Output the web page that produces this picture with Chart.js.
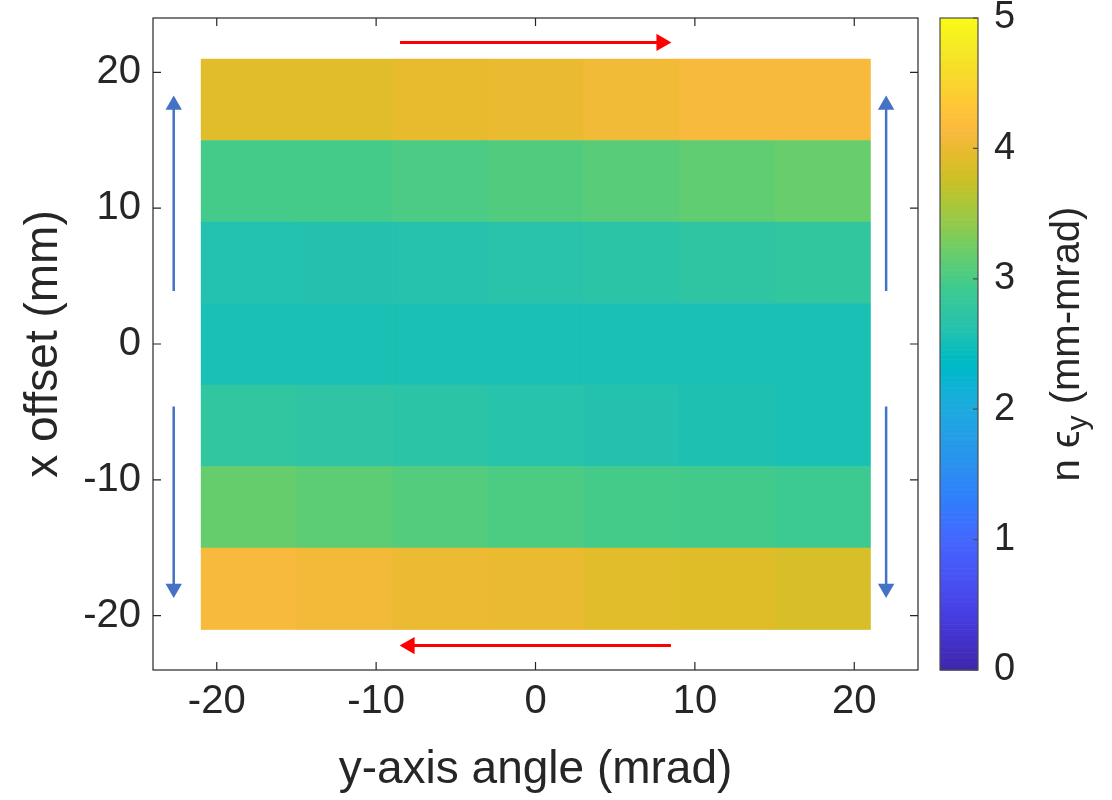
<!DOCTYPE html>
<html lang="en">

<head>
    <meta charset="UTF-8">
    <title>Emittance map</title>
    <script src="https://cdn.jsdelivr.net/npm/chart.js"></script>
    <style>
        html, body { margin: 0; padding: 0; background: #fff; }
        .chart-container { position: relative; width: 1112px; height: 800px; }
    </style>
</head>

<body>
    <div class="chart-container">
        <canvas id="grafico-emitancia"></canvas>
    </div>

<script>
    // centros das celulas (mrad no eixo x, mm no eixo y)
    const xCenters = [-18, -12, -6, 0, 6, 12, 18];
    const yCenters = [18, 12, 6, 0, -6, -12, -18];
    const cellSize = 6;

    // n eps_y (mm-mrad), uma linha por yCenter, de cima para baixo
    const rowP18 = [3.93, 3.93, 3.98, 4.00, 4.06, 4.13, 4.13];
    const rowP12 = [2.98, 2.98, 3.02, 3.06, 3.10, 3.15, 3.20];
    const rowP6 = [2.61, 2.62, 2.64, 2.67, 2.70, 2.74, 2.78];
    const row0 = [2.56, 2.56, 2.56, 2.55, 2.55, 2.56, 2.56];
    const rowM6 = [2.77, 2.73, 2.70, 2.66, 2.62, 2.58, 2.56];
    const rowM12 = [3.19, 3.13, 3.07, 3.03, 2.98, 2.96, 2.92];
    const rowM18 = [4.13, 4.08, 4.02, 4.00, 3.93, 3.90, 3.86];
    const emittance = [rowP18, rowP12, rowP6, row0, rowM6, rowM12, rowM18];

    const xTicks = [-20, -10, 0, 10, 20];
    const yTicks = [-20, -10, 0, 10, 20];
    const cbTicks = [0, 1, 2, 3, 4, 5];
    const cbMin = 0, cbMax = 5;

    // setas (direcao da varredura)
    const arrowTopX = [-8.5, 7.9], arrowTopY = [22.2, 22.2];
    const arrowBottomX = [8.5, -7.9], arrowBottomY = [-22.2, -22.2];
    const arrowSideX = [-22.7, 22.0];
    const arrowUpY = [3.9, 17.6];
    const arrowDownY = [-4.6, -18.0];

    const parula = [
        [0.2422, 0.1504, 0.6603], [0.2504, 0.1650, 0.7076], [0.2578, 0.1818, 0.7511], [0.2647, 0.1978, 0.7952],
        [0.2706, 0.2147, 0.8364], [0.2751, 0.2342, 0.8710], [0.2783, 0.2559, 0.8991], [0.2803, 0.2782, 0.9221],
        [0.2813, 0.3006, 0.9414], [0.2810, 0.3228, 0.9579], [0.2795, 0.3447, 0.9717], [0.2760, 0.3667, 0.9829],
        [0.2699, 0.3892, 0.9906], [0.2602, 0.4123, 0.9952], [0.2440, 0.4358, 0.9988], [0.2206, 0.4603, 0.9973],
        [0.1963, 0.4847, 0.9892], [0.1834, 0.5074, 0.9798], [0.1786, 0.5289, 0.9682], [0.1764, 0.5499, 0.9520],
        [0.1687, 0.5703, 0.9359], [0.1540, 0.5902, 0.9218], [0.1460, 0.6091, 0.9079], [0.1380, 0.6276, 0.8973],
        [0.1248, 0.6459, 0.8883], [0.1113, 0.6635, 0.8763], [0.0952, 0.6798, 0.8598], [0.0689, 0.6948, 0.8394],
        [0.0297, 0.7082, 0.8163], [0.0036, 0.7203, 0.7917], [0.0067, 0.7312, 0.7660], [0.0433, 0.7411, 0.7394],
        [0.0964, 0.7500, 0.7120], [0.1408, 0.7584, 0.6842], [0.1717, 0.7670, 0.6554], [0.1938, 0.7758, 0.6251],
        [0.2161, 0.7843, 0.5923], [0.2470, 0.7918, 0.5567], [0.2906, 0.7973, 0.5188], [0.3406, 0.8008, 0.4789],
        [0.3909, 0.8029, 0.4354], [0.4456, 0.8024, 0.3909], [0.5044, 0.7993, 0.3480], [0.5616, 0.7942, 0.3045],
        [0.6174, 0.7876, 0.2612], [0.6720, 0.7793, 0.2227], [0.7242, 0.7698, 0.1910], [0.7738, 0.7598, 0.1646],
        [0.8203, 0.7498, 0.1535], [0.8634, 0.7406, 0.1596], [0.9035, 0.7330, 0.1774], [0.9393, 0.7288, 0.2100],
        [0.9728, 0.7298, 0.2394], [0.9956, 0.7434, 0.2371], [0.9970, 0.7659, 0.2199], [0.9952, 0.7893, 0.2028],
        [0.9892, 0.8136, 0.1885], [0.9786, 0.8386, 0.1766], [0.9676, 0.8639, 0.1643], [0.9610, 0.8890, 0.1537],
        [0.9597, 0.9135, 0.1423], [0.9628, 0.9373, 0.1265], [0.9691, 0.9606, 0.1064], [0.9769, 0.9839, 0.0805]
    ];

    function parulaColor(v) {
        const t = Math.min(Math.max((v - cbMin) / (cbMax - cbMin), 0), 1) * (parula.length - 1);
        const i = Math.floor(t);
        const f = t - i;
        const a = parula[i];
        const b = parula[Math.min(i + 1, parula.length - 1)];
        const c = a.map((ai, k) => Math.round((ai + (b[k] - ai) * f) * 255));
        return 'rgb(' + c[0] + ', ' + c[1] + ', ' + c[2] + ')';
    }

    const FONT = "'Liberation Sans', Arial, Helvetica, sans-serif";
    const INK = '#262626';

    function arrowData(xs, ys) {
        return xs.map((x, i) => ({ x: x, y: ys[i] }));
    }

    function arrowDataset(points, color, width, head, rotation) {
        return {
            data: points,
            showLine: true,
            borderColor: color,
            borderWidth: width,
            pointStyle: 'triangle',
            pointRadius: [0, head],
            pointRotation: [0, rotation],
            pointBackgroundColor: color,
            pointBorderWidth: 0,
            pointHoverRadius: [0, head]
        };
    }

    // celulas do mapa
    const heatmapPlugin = {
        id: 'heatmap',
        beforeDatasetsDraw(chart) {
            const { ctx, scales: { x, y } } = chart;
            ctx.save();
            yCenters.forEach((yc, r) => {
                xCenters.forEach((xc, c) => {
                    const x0 = x.getPixelForValue(xc - cellSize / 2);
                    const x1 = x.getPixelForValue(xc + cellSize / 2);
                    const y0 = y.getPixelForValue(yc + cellSize / 2);
                    const y1 = y.getPixelForValue(yc - cellSize / 2);
                    ctx.fillStyle = parulaColor(emittance[r][c]);
                    ctx.fillRect(x0, y0, x1 - x0 + 0.6, y1 - y0 + 0.6);
                });
            });
            ctx.restore();
        }
    };

    // caixa dos eixos, ticks para dentro e barra de cores
    const boxPlugin = {
        id: 'box',
        afterDraw(chart) {
            const { ctx, chartArea: a, scales: { x, y, cb } } = chart;
            const tl = 8;
            ctx.save();
            ctx.strokeStyle = INK;
            ctx.lineWidth = 1.2;
            ctx.strokeRect(a.left, a.top, a.right - a.left, a.bottom - a.top);
            ctx.beginPath();
            xTicks.forEach(v => {
                const px = x.getPixelForValue(v);
                ctx.moveTo(px, a.bottom); ctx.lineTo(px, a.bottom - tl);
                ctx.moveTo(px, a.top); ctx.lineTo(px, a.top + tl);
            });
            yTicks.forEach(v => {
                const py = y.getPixelForValue(v);
                ctx.moveTo(a.left, py); ctx.lineTo(a.left + tl, py);
                ctx.moveTo(a.right, py); ctx.lineTo(a.right - tl, py);
            });
            ctx.stroke();

            // barra de cores
            const cbLeft = a.right + 22;
            const cbWidth = 38;
            const steps = 256;
            for (let i = 0; i < steps; i++) {
                const v0 = cbMin + (cbMax - cbMin) * i / steps;
                const v1 = cbMin + (cbMax - cbMin) * (i + 1) / steps;
                const p0 = cb.getPixelForValue(v0);
                const p1 = cb.getPixelForValue(v1);
                ctx.fillStyle = parulaColor((v0 + v1) / 2);
                ctx.fillRect(cbLeft, p1, cbWidth, p0 - p1 + 0.6);
            }
            const cbTop = cb.getPixelForValue(cbMax);
            const cbBottom = cb.getPixelForValue(cbMin);
            ctx.strokeStyle = '#4d4d4d';
            ctx.lineWidth = 1.2;
            ctx.strokeRect(cbLeft, cbTop, cbWidth, cbBottom - cbTop);
            ctx.beginPath();
            cbTicks.forEach(v => {
                const py = cb.getPixelForValue(v);
                ctx.moveTo(cbLeft + cbWidth, py); ctx.lineTo(cbLeft + cbWidth - 5, py);
            });
            ctx.stroke();

            // titulo da barra: n eps_y (mm-mrad)
            const size = 40;
            const parts = [
                { t: 'n ', f: size + 'px ' + FONT, dy: 0 },
                { t: '\u03F5', f: size + 'px ' + FONT, dy: 0 },
                { t: 'y', f: Math.round(size * 0.75) + 'px ' + FONT, dy: size * 0.28 },
                { t: ' (mm-mrad)', f: size + 'px ' + FONT, dy: 0 }
            ];
            let total = 0;
            parts.forEach(p => { ctx.font = p.f; p.w = ctx.measureText(p.t).width; total += p.w; });
            ctx.translate(a.right + 150, (cbTop + cbBottom) / 2);
            ctx.rotate(-Math.PI / 2);
            ctx.fillStyle = INK;
            ctx.textBaseline = 'middle';
            ctx.textAlign = 'left';
            let cx = -total / 2;
            parts.forEach(p => {
                ctx.font = p.f;
                ctx.fillText(p.t, cx, p.dy);
                cx += p.w;
            });
            ctx.restore();
        }
    };

    const tickFont = { family: FONT, size: 40 };
    const titleFont = { family: FONT, size: 46 };

    new Chart(document.getElementById('grafico-emitancia'), {
        type: 'scatter',
        data: {
            datasets: [
                arrowDataset(arrowData(arrowTopX, arrowTopY), '#ff0000', 3, 10, 90),
                arrowDataset(arrowData(arrowBottomX, arrowBottomY), '#ff0000', 3, 10, -90),
                arrowDataset(arrowData([arrowSideX[0], arrowSideX[0]], arrowUpY), '#4472c4', 2.5, 9.5, 0),
                arrowDataset(arrowData([arrowSideX[0], arrowSideX[0]], arrowDownY), '#4472c4', 2.5, 9.5, 180),
                arrowDataset(arrowData([arrowSideX[1], arrowSideX[1]], arrowUpY), '#4472c4', 2.5, 9.5, 0),
                arrowDataset(arrowData([arrowSideX[1], arrowSideX[1]], arrowDownY), '#4472c4', 2.5, 9.5, 180)
            ]
        },
        options: {
            responsive: true,
            maintainAspectRatio: false,
            animation: false,
            layout: { padding: { top: 18, left: 0, right: 0, bottom: 0 } },
            plugins: {
                legend: { display: false },
                tooltip: { enabled: false }
            },
            scales: {
                x: {
                    type: 'linear',
                    min: -24,
                    max: 24,
                    afterBuildTicks: s => { s.ticks = xTicks.map(v => ({ value: v })); },
                    afterFit: s => { s.height = 130; s.paddingLeft = 0; s.paddingRight = 0; },
                    grid: { display: false, drawTicks: false },
                    border: { display: false },
                    ticks: { color: INK, font: tickFont, padding: 8, maxRotation: 0 },
                    title: { display: true, text: 'y-axis angle (mrad)', color: INK, font: titleFont, padding: { top: 0, bottom: 2 } }
                },
                y: {
                    type: 'linear',
                    min: -24,
                    max: 24,
                    afterBuildTicks: s => { s.ticks = yTicks.map(v => ({ value: v })); },
                    afterFit: s => { s.width = 153; s.paddingTop = 0; s.paddingBottom = 0; },
                    grid: { display: false, drawTicks: false },
                    border: { display: false },
                    ticks: { color: INK, font: tickFont, padding: 12 },
                    title: { display: true, text: 'x offset (mm)', color: INK, font: titleFont, padding: { top: 17, bottom: 0 } }
                },
                cb: {
                    type: 'linear',
                    position: 'right',
                    min: cbMin,
                    max: cbMax,
                    afterBuildTicks: s => { s.ticks = cbTicks.map(v => ({ value: v })); },
                    afterFit: s => { s.width = 194; s.paddingTop = 0; s.paddingBottom = 0; },
                    grid: { display: false, drawTicks: false },
                    border: { display: false },
                    ticks: { color: INK, font: { family: FONT, size: 38 }, padding: 76 }
                }
            }
        },
        plugins: [heatmapPlugin, boxPlugin]
    });
</script>
</body>

</html>
